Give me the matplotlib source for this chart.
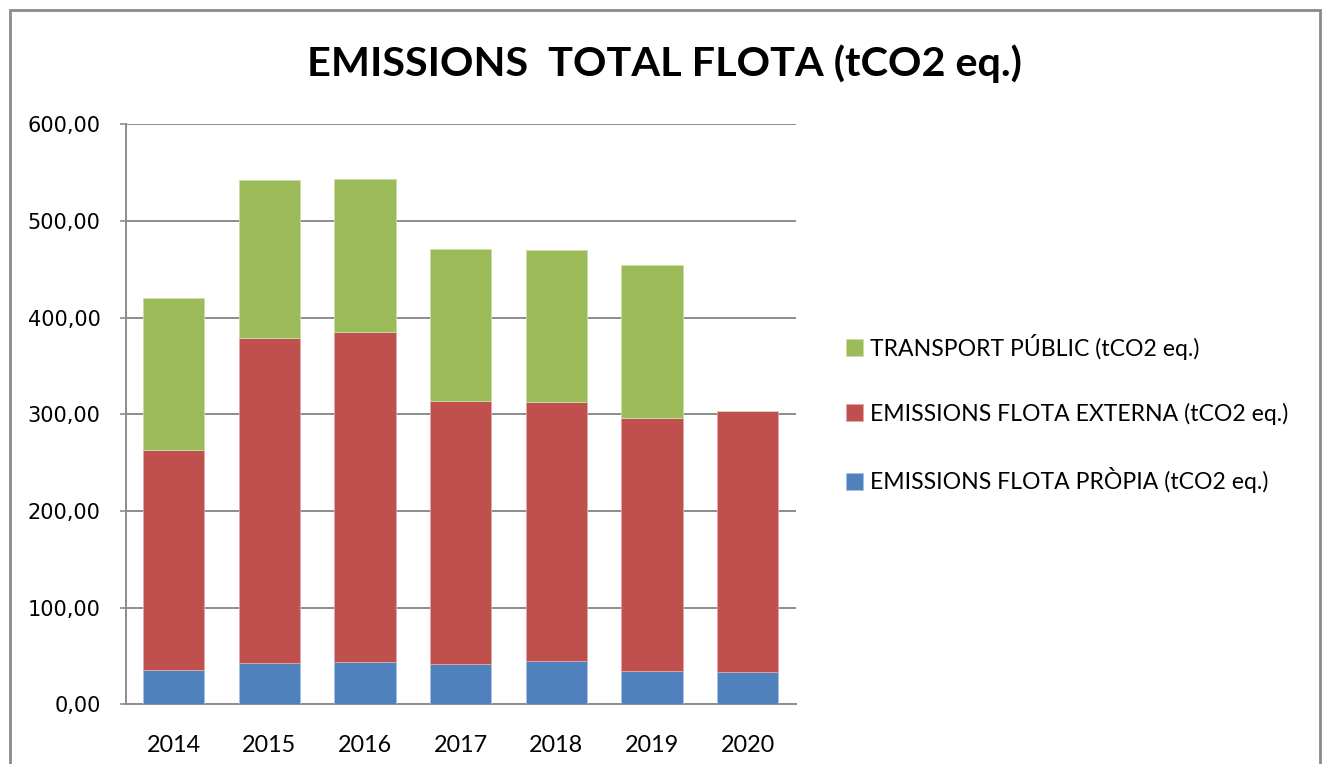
import matplotlib
matplotlib.use("Agg")
import matplotlib.pyplot as plt
from matplotlib.patches import Rectangle
import numpy as np

years = ["2014", "2015", "2016", "2017", "2018", "2019", "2020"]
flota_propia = [35.2, 42.4, 44.1, 41.4, 44.5, 34.1, 33.1]
flota_externa = [228.2, 336.8, 340.7, 272.7, 268.2, 262.4, 270.6]
transport_public = [157.1, 163.2, 158.3, 156.6, 157.6, 157.6, 0.0]
yticks = [0, 100, 200, 300, 400, 500, 600]
ytick_labels = ["0,00", "100,00", "200,00", "300,00", "400,00", "500,00", "600,00"]
labels = ["EMISSIONS FLOTA PRÒPIA (tCO2 eq.)",
          "EMISSIONS FLOTA EXTERNA (tCO2 eq.)",
          "TRANSPORT PÚBLIC (tCO2 eq.)"]
title = "EMISSIONS  TOTAL FLOTA (tCO2 eq.)"

c_blue, c_red, c_green = "#4F81BD", "#C0504D", "#9BBB59"
grid_c = "#8C8C8C"

W, H = 1326, 764
fig = plt.figure(figsize=(W / 100, H / 100), dpi=100)
fig.patch.set_facecolor("white")

# outer chart border
fig.add_artist(Rectangle((10 / W, -0.01), (1320 - 10) / W, (H - 10) / H + 0.01,
                         transform=fig.transFigure, fill=False,
                         edgecolor="#8A8A8A", linewidth=2.0))

ax_l, ax_r, ax_t, ax_b = 125.7, 795.7, 124.3, 704.3
ax = fig.add_axes([ax_l / W, 1 - ax_b / H, (ax_r - ax_l) / W, (ax_b - ax_t) / H])

x = np.arange(len(years))
bw = 0.64
b1 = np.array(flota_propia)
b2 = np.array(flota_externa)
b3 = np.array(transport_public)
h1 = ax.bar(x, b1, bw, color=c_blue, edgecolor="#A9C1E0", linewidth=0.6, zorder=3, label=labels[0])
h2 = ax.bar(x, b2, bw, bottom=b1, color=c_red, edgecolor="#E0A8A6", linewidth=0.6, zorder=3, label=labels[1])
h3 = ax.bar(x, b3, bw, bottom=b1 + b2, color=c_green, edgecolor="#CDDDAC", linewidth=0.6, zorder=3, label=labels[2])

ax.set_xlim(-0.5, len(years) - 0.5)
ax.set_ylim(0, 600)
ax.set_yticks(yticks)
ax.set_yticklabels(ytick_labels, fontfamily="DejaVu Sans", fontsize=15)
ax.set_xticks(x)
ax.set_xticklabels(years, fontfamily="Lato", fontsize=16.8)
ax.tick_params(axis="y", length=4, width=1.2, color=grid_c, pad=14)
ax.tick_params(axis="x", length=0, pad=22)
ax.yaxis.grid(True, color=grid_c, linewidth=1.4, zorder=0)
ax.set_axisbelow(True)
for s in ["top", "right"]:
    ax.spines[s].set_visible(False)
for s in ["left", "bottom"]:
    ax.spines[s].set_color(grid_c)
    ax.spines[s].set_linewidth(1.4)

fig.text(664 / W, 1 - 64 / H, title, ha="center", va="center",
         fontfamily="Lato", fontweight="bold", fontsize=29.8)

leg = fig.legend([h3, h2, h1], [labels[2], labels[1], labels[0]],
                 loc="center left", bbox_to_anchor=(846 / W, 1 - 413.5 / H),
                 frameon=False, prop={"family": "Lato", "size": 16.6},
                 handlelength=0.72, handleheight=0.72, handletextpad=0.3,
                 labelspacing=1.86, borderpad=0, borderaxespad=0)

fig.savefig("out.png", dpi=100, facecolor="white")
